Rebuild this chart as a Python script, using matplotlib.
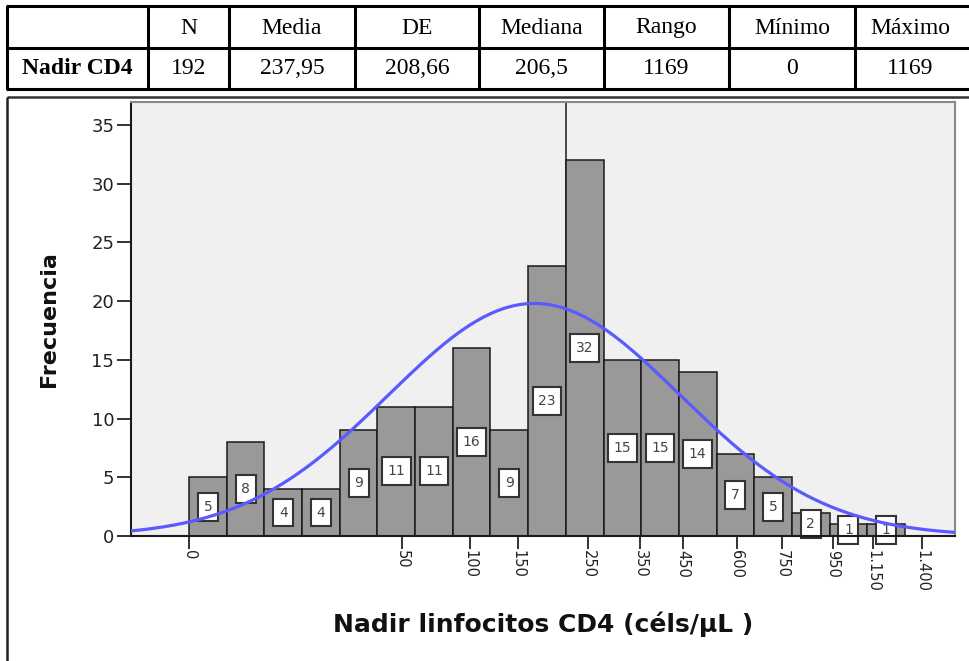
import numpy as np
import matplotlib.pyplot as plt
from matplotlib.path import Path

# Summary table
table_headers = ["", "N", "Media", "DE", "Mediana", "Rango", "Mínimo", "Máximo"]
row_label = "Nadir CD4"
row_values = ["192", "237,95", "208,66", "206,5", "1169", "0", "1169"]

# Histogram counts per interval (equal-width bins on the display scale)
counts = [5, 8, 4, 4, 9, 11, 11, 16, 9, 23, 32, 15, 15, 14, 7, 5, 2, 1, 1]

# CD4 tick labels and where each one falls along the bin scale
tick_labels = ["0", "50", "100", "150", "250", "350", "450", "600",
               "750", "950", "1.150", "1.400"]
tick_pos = [0.0, 5.65, 7.46, 8.73, 10.59, 11.97, 13.11, 14.54,
            15.74, 17.09, 18.15, 19.45]
ref_line_pos = 10.0

W, H = 969, 661
fig = plt.figure(figsize=(W / 100, H / 100), dpi=100)
fig.patch.set_facecolor("white")

# Overlay in pixel coordinates for the table and the frame
over = fig.add_axes([0, 0, 1, 1], zorder=0)
over.set_xlim(0, W)
over.set_ylim(H, 0)
over.axis("off")

col_edges = [7, 148, 229, 355, 479, 604, 729, 855]
row_lines = [6, 48, 89]
for y in row_lines:
    over.plot([6, W + 5], [y, y], color="black", lw=2.2, solid_capstyle="butt")
for x in col_edges:
    over.plot([x, x], [6, 89], color="black", lw=2.2, solid_capstyle="butt")

centers = [(col_edges[i] + col_edges[i + 1]) / 2 for i in range(len(col_edges) - 1)]
centers.append(910)
serif = "Liberation Serif"
for cx, txt in zip(centers, table_headers):
    if txt:
        over.text(cx, 28, txt, ha="center", va="center", fontsize=17, family=serif)
over.text(centers[0], 69, row_label, ha="center", va="center", fontsize=17,
          family=serif, fontweight="bold")
for cx, txt in zip(centers[1:], row_values):
    over.text(cx, 69, txt, ha="center", va="center", fontsize=17, family=serif)

# Chart frame
over.plot([7, W + 5], [96.5, 96.5], color="#333333", lw=1.8, solid_capstyle="butt")
over.plot([7, 7], [96.5, H + 5], color="#222222", lw=1.8, solid_capstyle="butt")

# Histogram axes
px_per_unit = (536 - 125) / 35.0
top_px, bot_px, left_px, right_px = 102, 536, 131, 955
bin_px = (905 - 189) / 19.0
ax = fig.add_axes([left_px / W, (H - bot_px) / H, (right_px - left_px) / W,
                   (bot_px - top_px) / H], zorder=2)
ax.set_facecolor("#f0f0f0")
ax.set_xlim((left_px - 189) / bin_px, (right_px - 189) / bin_px)
ax.set_ylim(0, (bot_px - top_px) / px_per_unit)

edges = np.arange(len(counts))
ax.axvline(ref_line_pos, color="#3a3a3a", lw=1.3, zorder=2)
ax.bar(edges, counts, width=1.0, align="edge", color="#999999",
       edgecolor="#1a1a1a", linewidth=1.1, zorder=3)


def tall_box(x0, y0, width, height, mutation_size):
    """Rectangular label box with more padding above and below than at the sides."""
    px = 0.40 * mutation_size
    py = 0.50 * mutation_size
    x0, x1 = x0 - px, x0 + width + px
    y0, y1 = y0 - py, y0 + height + py
    return Path([(x0, y0), (x1, y0), (x1, y1), (x0, y1), (x0, y0)],
                [Path.MOVETO, Path.LINETO, Path.LINETO, Path.LINETO, Path.CLOSEPOLY])


for i, c in enumerate(counts):
    ax.text(i + 0.5, c / 2, str(c), ha="center", va="center", fontsize=10,
            color="#444444", zorder=5, clip_on=False,
            bbox=dict(boxstyle=tall_box, fc="white", ec="#333333", lw=1.5))

# Normal curve fitted to the binned data
cnt = np.array(counts, dtype=float)
mids = edges + 0.5
n = cnt.sum()
mu = (cnt * mids).sum() / n
sd = np.sqrt((cnt * (mids - mu) ** 2).sum() / (n - 1))
xs = np.linspace(*ax.get_xlim(), 400)
ys = n * np.exp(-0.5 * ((xs - mu) / sd) ** 2) / (sd * np.sqrt(2 * np.pi))
ax.plot(xs, ys, color="#5a5aff", lw=2.3, zorder=6, solid_capstyle="butt")

for side in ("top", "right"):
    ax.spines[side].set_color("#888888")
    ax.spines[side].set_linewidth(1.5)
for side in ("left", "bottom"):
    ax.spines[side].set_color("#1a1a1a")
    ax.spines[side].set_linewidth(1.5)
ax.spines["bottom"].set_zorder(7)

ax.set_yticks(range(0, 36, 5))
ax.tick_params(axis="y", direction="out", length=10, width=1.4, color="#333333",
               labelsize=13, pad=2, labelcolor="#222222")
ax.set_xticks(tick_pos)
ax.set_xticklabels(tick_labels, rotation=-90)
ax.tick_params(axis="x", direction="out", length=9, width=1.4, color="#333333",
               labelsize=10.5, pad=1, labelcolor="#222222")

fig.text(543 / W, 1 - 624 / H, "Nadir linfocitos CD4 (céls/µL )", ha="center",
         va="center", fontsize=18, fontweight="bold", color="#111111")
fig.text(49 / W, 1 - 319 / H, "Frecuencia", ha="center", va="center",
         rotation=90, fontsize=16, fontweight="bold", color="#111111")

fig.savefig("out.png", dpi=100)
